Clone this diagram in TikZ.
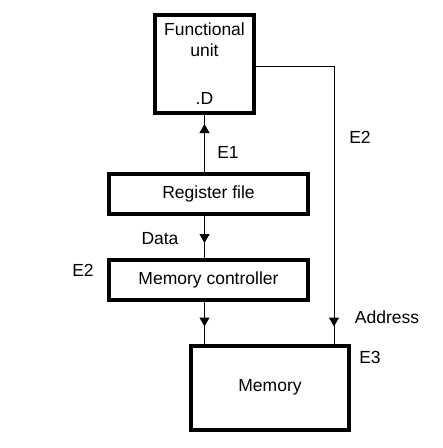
\documentclass[tikz,border=0pt]{standalone}
\usepackage{fontspec}
\setmainfont{Liberation Sans}
\usepackage{tikz}
\usetikzlibrary{arrows.meta}
\tikzset{unitbox/.style={draw, line width=4pt, inner sep=0pt, align=center},
 lbl/.style={inner sep=0pt},
 wire/.style={line width=1pt},
 tip/.style={wire, -{Triangle[width=10pt,length=9pt]}}}

\begin{document}
\begin{tikzpicture}[x=1pt, y=-1pt, font=\fontsize{17.5}{21}\selectfont]
 \useasboundingbox (0,0) rectangle (443,448);
 \node[unitbox, minimum width=99pt, minimum height=98pt] (fu) at (204.5,64) {Functional\\unit\\[27pt].D};
 \node[unitbox, minimum width=199pt, minimum height=40pt] (rf) at (208.5,194) {Register file};
 \node[unitbox, minimum width=199pt, minimum height=40pt] (mc) at (208.5,280) {Memory controller};
 \node[unitbox, minimum width=158pt, minimum height=84pt] (mem) at (270,387.5) {Memory};
 \coordinate (addr) at (334,66);
  \draw[wire] (fu.south |- rf.north) -- (fu.south);
  \draw[tip, shorten >=9pt] (fu.south |- rf.north) -- (fu.south);
  \draw[wire] (fu.south |- rf.south) -- (fu.south |- mc.north);
  \draw[tip, shorten >=15pt] (fu.south |- rf.south) -- (fu.south |- mc.north);
  \draw[wire] (fu.south |- mc.south) -- (fu.south |- mem.north);
  \draw[tip, shorten >=17pt] (fu.south |- mc.south) -- (fu.south |- mem.north);
  \draw[wire] (fu.east |- addr) -- (addr) -- (addr |- mem.north);
  \draw[tip, shorten >=17pt] (addr) -- (addr |- mem.north);
 \node[lbl] (e1) at (228,152) {E1};
 \node[lbl] (e2a) at (360,137) {E2};
 \node[lbl] (data) at (160,239) {Data};
 \node[lbl] (e2b) at (83,270) {E2};
 \node[lbl] (adr) at (387,317) {Address};
 \node[lbl] (e3) at (370,357) {E3};
\end{tikzpicture}
\end{document}
